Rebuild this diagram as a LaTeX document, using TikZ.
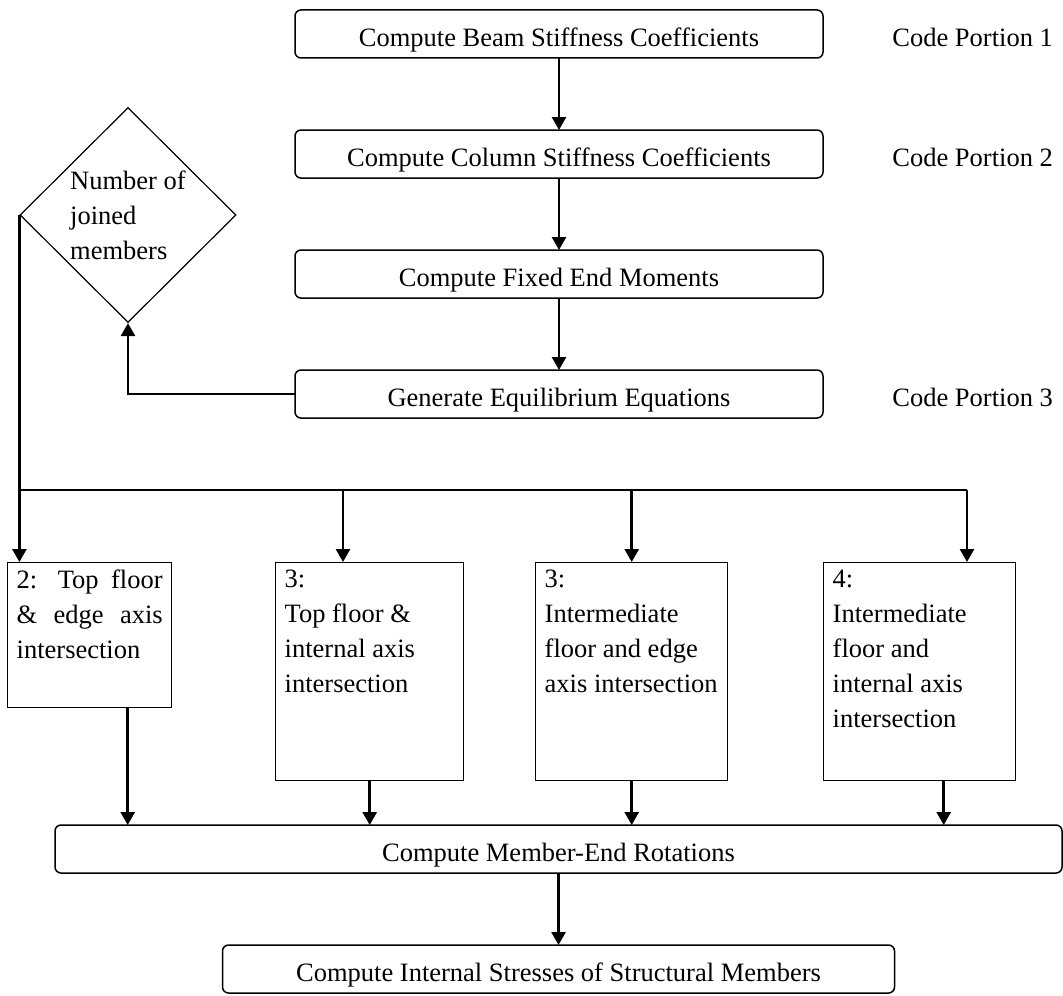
\documentclass[tikz,border=0pt]{standalone}
\usepackage{fontspec}
\setmainfont{Liberation Serif}
\usetikzlibrary{arrows.meta,shapes.geometric,positioning}

\begin{document}
\begin{tikzpicture}[
  x=0.5pt, y=-0.5pt,
  font=\fontsize{13.25pt}{17.5pt}\selectfont,
  >={Triangle[length=6.5pt,width=7pt]},
  stage/.style={draw, line width=0.75pt, rounded corners=3pt, minimum width=264pt,
    minimum height=24pt, inner sep=0pt, outer sep=0pt, text height=12.5pt, text depth=0pt},
  tag/.style={anchor=west, inner sep=0pt},
  decision/.style={diamond, draw, line width=0.6pt, align=left, inner sep=0pt,
    minimum width=108pt, minimum height=107.5pt},
  case/.style={draw, line width=0.7pt, anchor=north west, inner xsep=4.5pt, inner ysep=3.5pt},
  link/.style={line width=1.35pt},
  arr/.style={link, ->},
]
  \useasboundingbox (0,0) rectangle (1063,995);

  % main stack
  \node[stage] (beam) at (559,34) {Compute Beam Stiffness Coefficients};
  \node[stage, below=36pt of beam] (column) {Compute Column Stiffness Coefficients};
  \node[stage, below=36pt of column] (fem) {Compute Fixed End Moments};
  \node[stage, below=36pt of fem] (equil) {Generate Equilibrium Equations};

  \node[tag, right=34.5pt of beam, yshift=-1.5pt] (part1) {Code Portion 1};
  \node[tag, right=34.5pt of column, yshift=-1.5pt] (part2) {Code Portion 2};
  \node[tag, right=34.5pt of equil, yshift=-1.5pt] (part3) {Code Portion 3};

  \node[decision] (decide) at (128,215) {Number of\\joined\\members};

  % joint cases
  \node[case] (caseA) at (7,562) {\parbox[t][65.5pt][t]{73pt}{2: Top floor \& edge axis intersection}};
  \node[case] (caseB) at (275,562) {\parbox[t][102pt][t]{85pt}{\raggedright
    3:\\Top floor \&\\internal axis\\intersection}};
  \node[case] (caseC) at (535,562) {\parbox[t][102pt][t]{87pt}{\raggedright
    3:\\Intermediate\\floor and edge\\axis intersection}};
  \node[case] (caseD) at (823,562) {\parbox[t][102pt][t]{87pt}{\raggedright
    4:\\Intermediate\\floor and\\internal axis\\intersection}};

  \node[stage, minimum width=503.5pt] (rot) at (558.5,849) {Compute Member-End Rotations};
  \node[stage, minimum width=336pt, below=36pt of rot] (stress) {Compute Internal Stresses of Structural Members};

  \coordinate (tapB) at (343,490);
  \coordinate (busR) at (967,490);

  \draw[arr] (beam) -- (column);
  \draw[arr] (column) -- (fem);
  \draw[arr] (fem) -- (equil);
  \draw[arr] (equil.west) -| (decide.south);

  \draw[link] (decide.west) |- (busR);
  \draw[arr] (decide.west |- busR) -- (decide.west |- caseA.north);
  \draw[arr] (tapB) -- (tapB |- caseB.north);
  \draw[arr] (caseC.north |- busR) -- (caseC.north);
  \draw[arr] (busR) -- (busR |- caseD.north);

  \draw[arr] ([xshift=19pt]caseA.south) -- ([xshift=19pt]caseA.south |- rot.north);
  \draw[arr] (caseB.south) -- (caseB.south |- rot.north);
  \draw[arr] (caseC.south) -- (caseC.south |- rot.north);
  \draw[arr] ([xshift=12pt]caseD.south) -- ([xshift=12pt]caseD.south |- rot.north);
  \draw[arr] (rot) -- (stress);
\end{tikzpicture}
\end{document}
